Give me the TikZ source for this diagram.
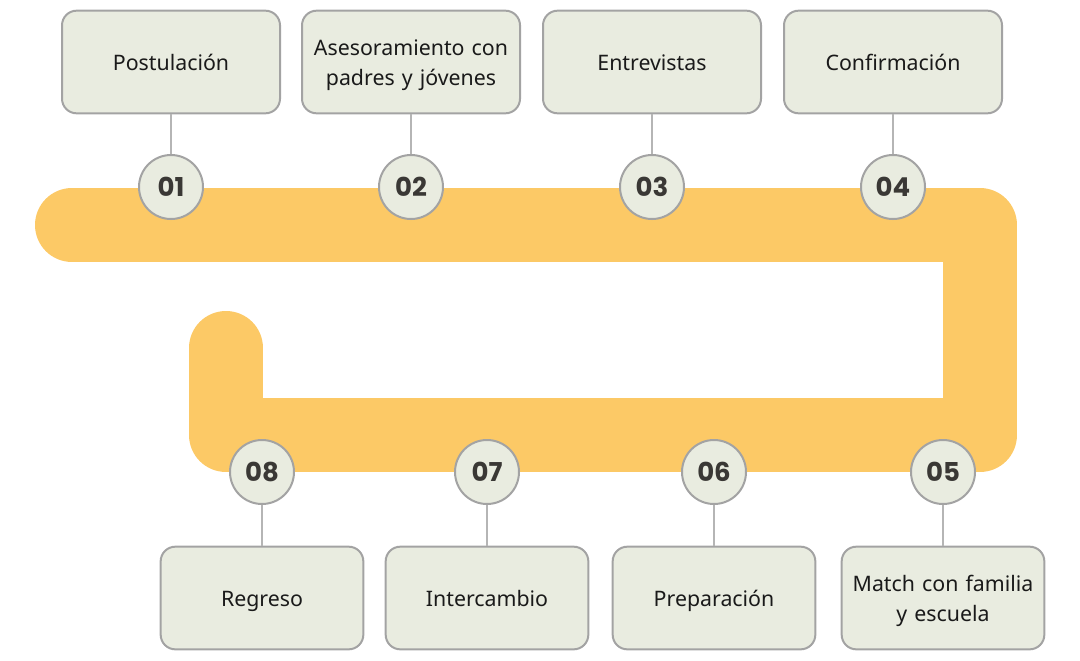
\documentclass[tikz,border=0pt]{standalone}
\usepackage{fontspec}
\setmainfont{Noto Sans}
\newfontfamily\numfont{Poppins}[UprightFont=* Bold]
\definecolor{band}{HTML}{FCC966}
\definecolor{boxfill}{HTML}{E9ECE0}
\definecolor{edge}{HTML}{A3A3A3}
\definecolor{numtext}{HTML}{3A3835}
\definecolor{lbltext}{HTML}{1A1A1A}
\newcommand\tstr{\rule{0pt}{19.9pt}}
\newcommand\bstr{\rule[-6.6pt]{0pt}{6.6pt}}
\begin{document}
\begin{tikzpicture}[x=0.75pt,y=-0.75pt,
  stepbox/.style={draw=edge,line width=1.5pt,fill=boxfill,rounded corners=11pt,
    text width=#1,minimum height=77pt,align=center,font=\fontsize{16}{22.5}\selectfont,
    text=lbltext,inner sep=0pt},
  stepbox/.default=160pt,
  numdot/.style={circle,draw=edge,line width=1.5pt,fill=boxfill,minimum size=48pt,
    inner sep=0pt,font=\numfont\fontsize{19.5}{19.5}\selectfont,text=numtext},
  link/.style={draw=edge!80,line width=1pt}]
\useasboundingbox (0,0) rectangle (1080,660);
% band
\draw[band,line width=55.5pt,line cap=round,line join=round]
  (72,225) -- (980,225) -- (980,435) -- (226,435) -- (226,348);
% boxes
\node[stepbox=163.5pt] (b1) at (171,62) {\tstr Postulación\bstr};
\node[stepbox=163.5pt] (b2) at (411,62) {\tstr Asesoramiento con\\padres y jóvenes\bstr};
\node[stepbox=163.5pt] (b3) at (652,62) {\tstr Entrevistas\bstr};
\node[stepbox=163.5pt] (b4) at (893,62) {\tstr Confirmación\bstr};
\node[stepbox=152pt] (b5) at (943,598) {\tstr Match con familia\\y escuela\bstr};
\node[stepbox=152pt] (b6) at (714,598) {\tstr Preparación\bstr};
\node[stepbox=152pt] (b7) at (487,598) {\tstr Intercambio\bstr};
\node[stepbox=152pt] (b8) at (262,598) {\tstr Regreso\bstr};
% circles
\node[numdot] (n1) at (171,187) {01};
\node[numdot] (n2) at (411,187) {02};
\node[numdot] (n3) at (652,187) {03};
\node[numdot] (n4) at (893,187) {04};
\node[numdot] (n5) at (943,472) {05};
\node[numdot] (n6) at (714,472) {06};
\node[numdot] (n7) at (487,472) {07};
\node[numdot] (n8) at (262,472) {08};
% links
\foreach \i in {1,2,3,4}{\draw[link] (b\i.south) -- (n\i.north);}
\foreach \i in {5,6,7,8}{\draw[link] (n\i.south) -- (b\i.north);}
\end{tikzpicture}
\end{document}
